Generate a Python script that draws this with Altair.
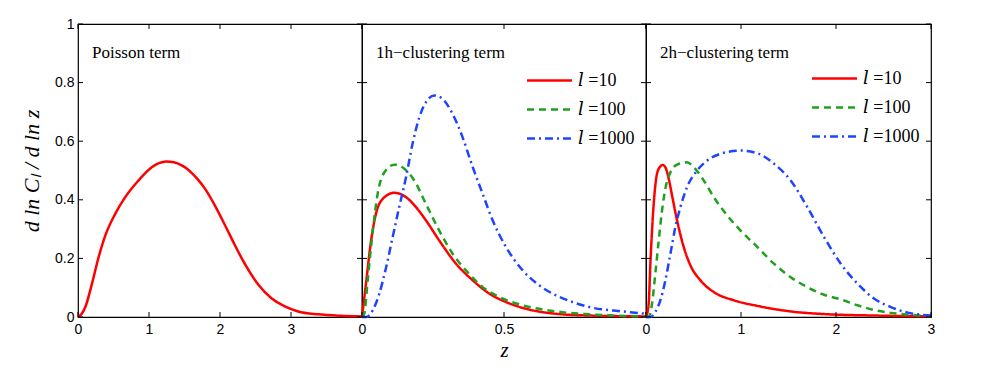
import altair as alt
import pandas as pd

# ---------------- data ----------------
poisson_z = [0, 0.05, 0.103, 0.197, 0.29, 0.384, 0.524, 0.665, 0.852, 1.039, 1.14, 1.24, 1.35,
             1.46, 1.53, 1.60, 1.69, 1.788, 1.929, 2.069, 2.21, 2.35, 2.538, 2.725, 2.912,
             3.10, 3.38, 3.7, 4.0]
poisson_v = [0, 0.01, 0.034, 0.114, 0.204, 0.278, 0.352, 0.409, 0.466, 0.511, 0.525, 0.531,
             0.528, 0.5175, 0.507, 0.492, 0.469, 0.438, 0.380, 0.314, 0.245, 0.181, 0.111,
             0.064, 0.036, 0.019, 0.009, 0.004, 0.002]

h1_red_z = [0, 0.014, 0.032, 0.049, 0.073, 0.114, 0.155, 0.19, 0.225, 0.272, 0.331, 0.39,
            0.448, 0.507, 0.566, 0.683, 0.8, 1.0]
h1_red_v = [0, 0.114, 0.261, 0.352, 0.403, 0.424, 0.409, 0.375, 0.33, 0.261, 0.182, 0.125,
            0.08, 0.051, 0.031, 0.011, 0.005, 0.002]
h1_green_z = [0, 0.008, 0.02, 0.038, 0.055, 0.079, 0.114, 0.149, 0.184, 0.225, 0.272, 0.319,
              0.366, 0.425, 0.484, 0.566, 0.683, 0.8, 1.0]
h1_green_v = [0, 0.011, 0.125, 0.295, 0.42, 0.494, 0.52, 0.506, 0.466, 0.386, 0.295, 0.216,
              0.159, 0.102, 0.068, 0.04, 0.019, 0.009, 0.002]
h1_blue_z = [0, 0.014, 0.038, 0.061, 0.085, 0.108, 0.131, 0.155, 0.178, 0.202, 0.225, 0.255,
             0.284, 0.319, 0.354, 0.39, 0.425, 0.46, 0.507, 0.566, 0.624, 0.683, 0.742, 0.8,
             0.918, 1.0]
h1_blue_v = [0, 0, 0.023, 0.08, 0.17, 0.273, 0.375, 0.477, 0.591, 0.682, 0.733, 0.756,
             0.744, 0.693, 0.614, 0.511, 0.42, 0.33, 0.239, 0.159, 0.108, 0.074, 0.051, 0.034,
             0.019, 0.011]

h2_red_z = [0, 0.028, 0.046, 0.081, 0.116, 0.151, 0.176, 0.204, 0.239, 0.274, 0.327, 0.397,
            0.468, 0.573, 0.714, 0.925, 1.171, 1.523, 1.874, 2.4, 3.0]
h2_red_v = [0, 0.045, 0.182, 0.386, 0.489, 0.514, 0.519, 0.511, 0.472, 0.415, 0.33, 0.239,
            0.176, 0.125, 0.085, 0.057, 0.038, 0.019, 0.01, 0.005, 0.002]
h2_green_z = [0, 0.028, 0.063, 0.098, 0.134, 0.169, 0.204, 0.257, 0.327, 0.432, 0.503, 0.608,
              0.714, 0.854, 0.995, 1.171, 1.347, 1.523, 1.698, 1.874, 2.05, 2.226, 2.4, 2.577,
              2.753, 3.0]
h2_green_v = [0, 0, 0.045, 0.148, 0.261, 0.364, 0.438, 0.494, 0.52, 0.528, 0.511, 0.466,
              0.409, 0.347, 0.295, 0.239, 0.182, 0.136, 0.102, 0.076, 0.06, 0.04, 0.024, 0.014,
              0.008, 0.003]
h2_blue_z = [0, 0.046, 0.098, 0.151, 0.204, 0.257, 0.309, 0.362, 0.432, 0.538, 0.644, 0.784,
             0.995, 1.171, 1.347, 1.523, 1.698, 1.874, 2.05, 2.226, 2.4, 2.577, 2.753, 3.0]
h2_blue_v = [0, 0, 0.017, 0.057, 0.125, 0.216, 0.307, 0.375, 0.443, 0.5, 0.534, 0.557,
             0.568, 0.559, 0.523, 0.466, 0.375, 0.273, 0.182, 0.114, 0.063, 0.034, 0.015, 0.005]

series_labels = ["\U0001D459 =10", "\U0001D459 =100", "\U0001D459 =1000"]
series_colors = ["#ff0000", "#1fa01f", "#1f44ff"]
series_dashes = [[1, 0], [7, 5], [8, 4, 2, 4]]

panel_titles = ["Poisson term", "1h\u2212clustering term", "2h\u2212clustering term"]

y_ticks = [0, 0.2, 0.4, 0.6, 0.8, 1]
x_ticks_1 = [0, 1, 2, 3, 4]
x_labels_1 = [0, 1, 2, 3]
x_ticks_2 = [0, 0.5, 1]
x_labels_2 = [0, 0.5]
x_ticks_3 = [0, 1, 2, 3]
x_labels_3 = [0, 1, 2, 3]

H = 293
TICK = 5
SERIF = "Liberation Serif"
SANS = "Liberation Sans"
LEG_FONT = "Liberation Serif, DejaVu Serif"


def series_df(pairs):
    rows = []
    for lab, (zs, vs) in zip(series_labels, pairs):
        for i, (z, v) in enumerate(zip(zs, vs)):
            rows.append({"l": lab, "z": z, "v": v, "i": i})
    return pd.DataFrame(rows)


def panel(idx, width, xdomain, xticks, xlabels, lines, show_y, x_title):
    xscale = alt.Scale(domain=xdomain, nice=False, zero=False)
    yscale = alt.Scale(domain=[0, 1], nice=False)
    xaxis = alt.Axis(values=xlabels, format="~g", ticks=False, domain=False, grid=False,
                     labelFont=SANS, labelFontSize=14, labelColor="black", labelPadding=5,
                     labelFlush=False, labelOverlap=False,
                     title=x_title if x_title else "", titleFont=SERIF,
                     titleFontStyle="italic",
                     titleFontWeight="normal", titleFontSize=21, titleColor="black",
                     titlePadding=3)
    if show_y:
        yaxis = alt.Axis(values=y_ticks, format="~g", ticks=False, domain=False, grid=False,
                         labelFont=SANS, labelFontSize=14, labelColor="black", labelPadding=4,
                         labelFlush=False, labelOverlap=False,
                         title="d ln C\u2097 / d ln z", titleFont=SERIF,
                         titleFontStyle="italic", titleFontWeight="normal", titleFontSize=22,
                         titleColor="black", titlePadding=11)
    else:
        yaxis = None

    X = alt.X("z:Q", scale=xscale, axis=xaxis)
    Y = alt.Y("v:Q", scale=yscale, axis=yaxis)

    layers = [lines.encode(x=X, y=Y)]

    xt = pd.DataFrame({"z": xticks})
    yt = pd.DataFrame({"v": y_ticks})
    rule = dict(color="black", strokeWidth=1)
    layers.append(alt.Chart(xt).mark_rule(**rule).encode(
        x=X, y=alt.value(H), y2=alt.value(H - TICK)))
    layers.append(alt.Chart(xt).mark_rule(**rule).encode(
        x=X, y=alt.value(0), y2=alt.value(TICK)))
    layers.append(alt.Chart(yt).mark_rule(**rule).encode(
        y=Y, x=alt.value(0), x2=alt.value(TICK)))
    layers.append(alt.Chart(yt).mark_rule(**rule).encode(
        y=Y, x=alt.value(width), x2=alt.value(width - TICK)))

    tt = pd.DataFrame({"t": [panel_titles[idx]]})
    layers.append(alt.Chart(tt).mark_text(
        align="left", baseline="alphabetic", font=SERIF, fontSize=17, color="black"
    ).encode(x=alt.value(14), y=alt.value(34), text="t:N"))

    return alt.layer(*layers).properties(width=width, height=H)


# Panel 1
p1_lines = alt.Chart(pd.DataFrame({"z": poisson_z, "v": poisson_v})).mark_line(
    color="#ff0000", strokeWidth=2.5, interpolate="monotone")


def multi_lines(df, legend_x, legend_y):
    legend = alt.Legend(orient="none", legendX=legend_x, legendY=legend_y, title=None,
                        symbolType="M-2,0L2,0", symbolSize=506, symbolStrokeWidth=2.5,
                        labelFont=LEG_FONT, labelFontSize=18, labelColor="black",
                        labelOffset=16, rowPadding=7, padding=0)
    return alt.Chart(df).mark_line(strokeWidth=2.5, interpolate="monotone").encode(
        color=alt.Color("l:N", scale=alt.Scale(domain=series_labels, range=series_colors),
                        legend=legend, sort=series_labels),
        strokeDash=alt.StrokeDash("l:N", scale=alt.Scale(domain=series_labels,
                                                          range=series_dashes),
                                  legend=legend, sort=series_labels),
        order="i:Q",
    )


p2_lines = multi_lines(series_df([(h1_red_z, h1_red_v), (h1_green_z, h1_green_v),
                                  (h1_blue_z, h1_blue_v)]), 175, 44)
p3_lines = multi_lines(series_df([(h2_red_z, h2_red_v), (h2_green_z, h2_green_v),
                                  (h2_blue_z, h2_blue_v)]), 176, 42)

c1 = panel(0, 284, [0, 4], x_ticks_1, x_labels_1, p1_lines, True, None)
c2 = panel(1, 284, [0, 1], x_ticks_2, x_labels_2, p2_lines, False, "z")
c3 = panel(2, 285, [0, 3], x_ticks_3, x_labels_3, p3_lines, False, None)

chart = alt.hconcat(c1, c2, c3, spacing=0, bounds="flush").resolve_scale(
    color="independent", strokeDash="independent", x="independent", y="independent"
).resolve_legend(color="independent", strokeDash="independent").properties(
    padding={"left": 11, "top": 8, "right": 5, "bottom": 5}
).configure(background="white").configure_view(stroke="black", strokeWidth=1.2)

chart.save("out.html", embed_options={"renderer": "svg", "actions": False})
